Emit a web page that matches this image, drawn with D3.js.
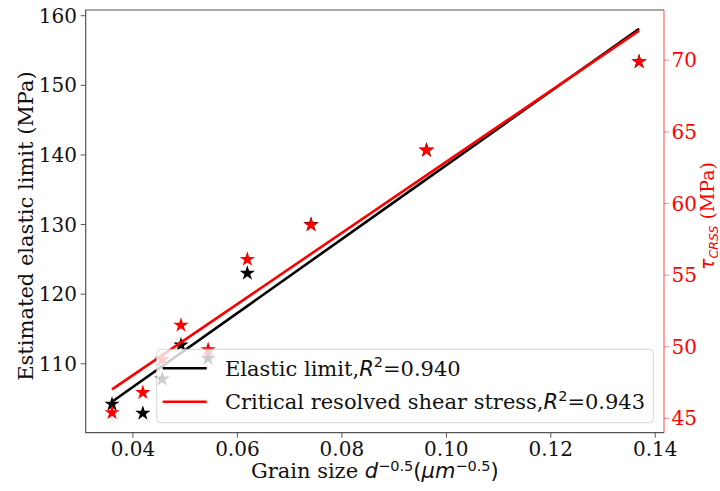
<!DOCTYPE html>
<html>
<head>
<meta charset="utf-8">
<script src="https://cdn.jsdelivr.net/npm/d3@7"></script>
<style>
  body { margin: 0; background: #fff; }
  svg { display: block; }
  text { font-family: "DejaVu Serif", serif; fill: #111; }
  .math { font-family: "DejaVu Sans", sans-serif; }
</style>
</head>
<body>
<div id="chart"></div>
<script>
// data
var grainSize = [0.0360, 0.0419, 0.0456, 0.0492, 0.0544, 0.0619, 0.0741, 0.0962, 0.1369];
var elasticLimit = [104.2, 102.9, 107.8, 112.7, 110.8, 123.0, 130.0, 140.7, 153.4];
var crss = [45.4, 46.8, 49.1, 51.5, 49.8, 56.1, 58.5, 63.7, 69.9];
var xTicks = [0.04, 0.06, 0.08, 0.10, 0.12, 0.14];
var leftTicks = [110, 120, 130, 140, 150, 160];
var rightTicks = [45, 50, 55, 60, 65, 70];
var r2Values = ["0.940", "0.943"];

var W = 720, H = 491;
var plot = { left: 85.7, right: 664, top: 10, bottom: 432.7 };
var tickFs = 20, labelFs = 21, legendFs = 21;

var svg = d3.select('#chart')
  .append('svg')
  .attr('width', W)
  .attr('height', H);

var x = d3.scaleLinear().domain([0.03096, 0.14167]).range([plot.left, plot.right]);
var yL = d3.scaleLinear().domain([100.1, 160.82]).range([plot.bottom, plot.top]);
var yR = d3.scaleLinear().domain([44.0, 73.51]).range([plot.bottom, plot.top]);

// least squares line between the smallest and largest x
function fit(xs, ys) {
  var mx = d3.mean(xs), my = d3.mean(ys);
  var sxy = 0, sxx = 0;
  for (var i = 0; i < xs.length; i++) {
    sxy += (xs[i] - mx) * (ys[i] - my);
    sxx += (xs[i] - mx) * (xs[i] - mx);
  }
  var b = sxy / sxx;
  var x0 = d3.min(xs), x1 = d3.max(xs);
  return [[x0, my + b * (x0 - mx)], [x1, my + b * (x1 - mx)]];
}

var star = d3.symbol().type(d3.symbolStar).size(72);

// elastic limit (left axis)
svg.selectAll('.ptBlack')
  .data(d3.zip(grainSize, elasticLimit))
  .enter()
  .append('path')
  .attr('class', 'ptBlack')
  .attr('d', star)
  .attr('transform', function(d) { return 'translate(' + x(d[0]) + ',' + yL(d[1]) + ')'; })
  .style('fill', '#000');

var lineL = d3.line().x(function(d) { return x(d[0]); }).y(function(d) { return yL(d[1]); });
svg.append('path')
  .attr('d', lineL(fit(grainSize, elasticLimit)))
  .attr('fill', 'none')
  .attr('stroke', '#000')
  .attr('stroke-width', 2.6);

// CRSS (right axis)
svg.selectAll('.ptRed')
  .data(d3.zip(grainSize, crss))
  .enter()
  .append('path')
  .attr('class', 'ptRed')
  .attr('d', star)
  .attr('transform', function(d) { return 'translate(' + x(d[0]) + ',' + yR(d[1]) + ')'; })
  .style('fill', '#ff0000');

var lineR = d3.line().x(function(d) { return x(d[0]); }).y(function(d) { return yR(d[1]); });
svg.append('path')
  .attr('d', lineR(fit(grainSize, crss)))
  .attr('fill', 'none')
  .attr('stroke', '#ff0000')
  .attr('stroke-width', 2.6);

// spines
svg.append('path')
  .attr('d', 'M' + plot.right + ',' + plot.top + 'H' + plot.left + 'V' + plot.bottom + 'H' + plot.right)
  .attr('fill', 'none')
  .attr('stroke', '#555')
  .attr('stroke-width', 1.2);
svg.append('line')
  .attr('x1', plot.right).attr('x2', plot.right)
  .attr('y1', plot.top).attr('y2', plot.bottom)
  .attr('stroke', '#ff0000')
  .attr('stroke-opacity', 0.45)
  .attr('stroke-width', 1.6);

// x ticks
xTicks.forEach(function(t) {
  svg.append('line')
    .attr('x1', x(t)).attr('x2', x(t))
    .attr('y1', plot.bottom).attr('y2', plot.bottom + 5)
    .attr('stroke', '#555');
  svg.append('text')
    .attr('x', x(t)).attr('y', 456)
    .attr('text-anchor', 'middle')
    .attr('font-size', tickFs)
    .text(t.toFixed(2));
});

// left ticks
leftTicks.forEach(function(t) {
  svg.append('line')
    .attr('x1', plot.left - 5).attr('x2', plot.left)
    .attr('y1', yL(t)).attr('y2', yL(t))
    .attr('stroke', '#555');
  svg.append('text')
    .attr('x', 77).attr('y', yL(t) + 7)
    .attr('text-anchor', 'end')
    .attr('font-size', tickFs)
    .text(t);
});

// right ticks
rightTicks.forEach(function(t) {
  svg.append('line')
    .attr('x1', plot.right).attr('x2', plot.right + 5)
    .attr('y1', yR(t)).attr('y2', yR(t))
    .attr('stroke', '#ff0000')
    .attr('stroke-opacity', 0.45);
  svg.append('text')
    .attr('x', 671.5).attr('y', yR(t) + 7)
    .attr('font-size', tickFs)
    .style('fill', '#ff0000')
    .text(t);
});

// axis labels
svg.append('text')
  .attr('transform', 'translate(33,226) rotate(-90)')
  .attr('text-anchor', 'middle')
  .attr('font-size', labelFs)
  .text('Estimated elastic limit (MPa)');

var xl = svg.append('text')
  .attr('x', (plot.left + plot.right) / 2)
  .attr('y', 478)
  .attr('text-anchor', 'middle')
  .attr('font-size', labelFs);
xl.append('tspan').text('Grain size ');
xl.append('tspan').attr('class', 'math').attr('font-style', 'italic').text('d');
xl.append('tspan').attr('class', 'math').attr('font-size', 14.5).attr('dy', -7).text('\u22120.5');
xl.append('tspan').attr('class', 'math').attr('dy', 7).text('(');
xl.append('tspan').attr('class', 'math').attr('font-style', 'italic').text('\u03bcm');
xl.append('tspan').attr('class', 'math').attr('font-size', 14.5).attr('dy', -7).text('\u22120.5');
xl.append('tspan').attr('class', 'math').attr('dy', 7).text(')');

var yr = svg.append('text')
  .attr('transform', 'translate(714,216) rotate(-90)')
  .attr('text-anchor', 'middle')
  .attr('font-size', 19)
  .style('fill', '#ff0000');
yr.append('tspan').attr('class', 'math').attr('font-style', 'italic').style('fill', '#ff0000').text('\u03c4');
yr.append('tspan').attr('class', 'math').attr('font-style', 'italic').attr('font-size', 12.5).attr('dy', 4).style('fill', '#ff0000').text('CRSS');
yr.append('tspan').attr('dy', -4).style('fill', '#ff0000').text(' (MPa)');

// legend
var legend = svg.append('g');
legend.append('rect')
  .attr('x', 156.7).attr('y', 349.3)
  .attr('width', 496.6).attr('height', 73.4)
  .attr('rx', 4)
  .attr('fill', '#fff').attr('fill-opacity', 0.8)
  .attr('stroke', '#ccc').attr('stroke-opacity', 0.8);

var legendItems = [
  { name: 'Elastic limit,', color: '#000', r2: r2Values[0] },
  { name: 'Critical resolved shear stress,', color: '#ff0000', r2: r2Values[1] }
];
legendItems.forEach(function(it, i) {
  var yy = 368.3 + i * 33.4;
  legend.append('line')
    .attr('x1', 162.7).attr('x2', 206.7)
    .attr('y1', yy).attr('y2', yy)
    .attr('stroke', it.color)
    .attr('stroke-width', 2.6);
  var t = legend.append('text')
    .attr('x', 225).attr('y', yy + 7.6)
    .attr('font-size', legendFs);
  t.append('tspan').text(it.name);
  t.append('tspan').attr('class', 'math').attr('font-style', 'italic').text('R');
  t.append('tspan').attr('class', 'math').attr('font-size', 14.5).attr('dy', -8.5).text('2');
  t.append('tspan').attr('dy', 8.5).text('=' + it.r2);
});
</script>
</body>
</html>
